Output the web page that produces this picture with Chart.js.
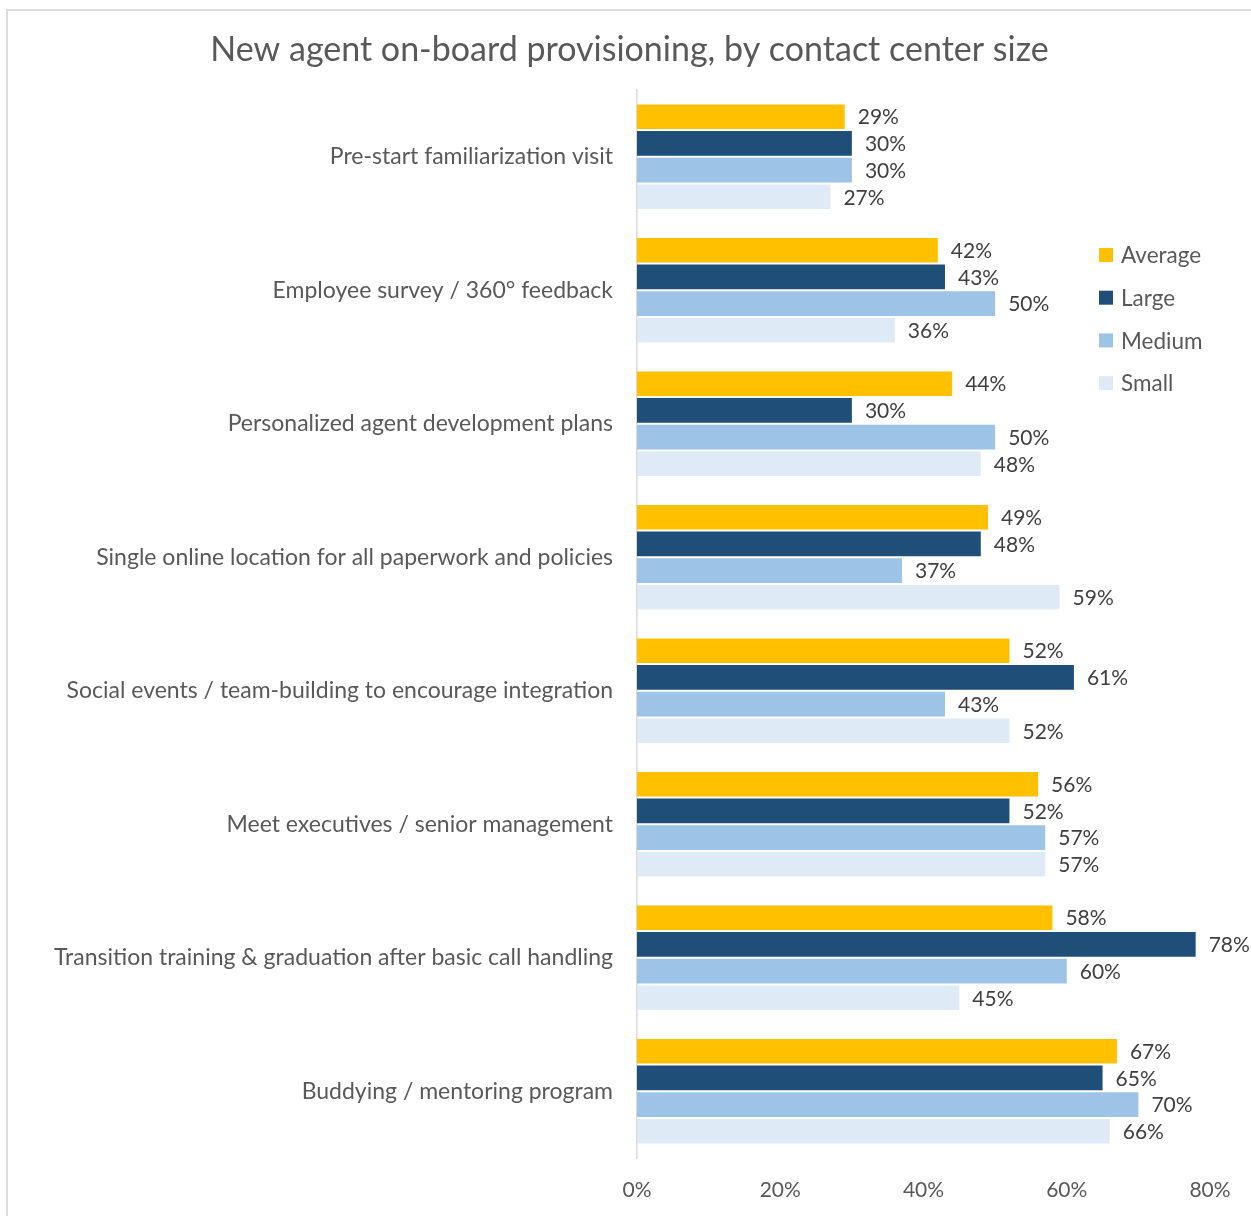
<!DOCTYPE html>
<html>
<head>
<meta charset="utf-8">
<title>New agent on-board provisioning</title>
<script src="https://cdn.jsdelivr.net/npm/chart.js@4.4.1/dist/chart.umd.min.js"></script>
<style>
  html, body { margin: 0; padding: 0; background: #fff; }
  #wrap { position: relative; width: 1251px; height: 1216px; overflow: hidden; }
  #frame {
    position: absolute; left: 6px; top: 9px; right: -4px; bottom: -4px;
    border-left: 2px solid #dcdcdc; border-top: 2px solid #dcdcdc;
  }
  canvas { position: absolute; left: 0; top: 0; }
</style>
</head>
<body>
<div id="wrap">
  <div id="frame"></div>
  <canvas id="chart" width="1251" height="1216"></canvas>
</div>
<script>
// data
const categories = [
  "Pre-start familiarization visit",
  "Employee survey / 360° feedback",
  "Personalized agent development plans",
  "Single online location for all paperwork and policies",
  "Social events / team-building to encourage integration",
  "Meet executives / senior management",
  "Transition training & graduation after basic call handling",
  "Buddying / mentoring program"
];
const average = [29, 42, 44, 49, 52, 56, 58, 67];
const large   = [30, 43, 30, 48, 61, 52, 78, 65];
const medium  = [30, 50, 50, 37, 43, 57, 60, 70];
const small   = [27, 36, 48, 59, 52, 57, 45, 66];
const xTicks  = [0, 20, 40, 60, 80];

const seriesNames  = ["Average", "Large", "Medium", "Small"];
const seriesColors = ["#FFC000", "#1F4E79", "#9DC3E6", "#DEEBF7"];
const seriesData   = [average, large, medium, small];

const chartTitle = "New agent on-board provisioning, by contact center size";
const FONT = "Lato, 'Open Sans', sans-serif";

// value labels at the end of each bar
const barLabels = {
  id: "barLabels",
  afterDatasetsDraw(chart) {
    const ctx = chart.ctx;
    ctx.save();
    ctx.font = "21px " + FONT;
    ctx.fillStyle = "#404040";
    ctx.textAlign = "left";
    ctx.textBaseline = "middle";
    chart.data.datasets.forEach((ds, i) => {
      chart.getDatasetMeta(i).data.forEach((bar, j) => {
        ctx.fillText(ds.data[j] + "%", bar.x + 13, bar.y + 1);
      });
    });
    ctx.restore();
  }
};

// title (centred on the framed box, not the canvas) and the legend inside the plot
const decorations = {
  id: "decorations",
  afterDraw(chart) {
    const ctx = chart.ctx;
    ctx.save();
    ctx.textBaseline = "middle";

    ctx.font = "34px " + FONT;
    ctx.fillStyle = "#595959";
    ctx.textAlign = "center";
    ctx.fillText(chartTitle, 629.5, 50);

    ctx.font = "22.5px " + FONT;
    ctx.textAlign = "left";
    seriesNames.forEach((name, i) => {
      const y = 255 + i * 42.7;
      ctx.fillStyle = seriesColors[i];
      ctx.fillRect(1099, y - 7, 14, 14);
      ctx.fillStyle = "#595959";
      ctx.fillText(name, 1121, y + 1);
    });
    ctx.restore();
  }
};

new Chart(document.getElementById("chart"), {
  type: "bar",
  data: {
    labels: categories,
    datasets: seriesNames.map((name, i) => ({
      label: name,
      data: seriesData[i],
      backgroundColor: seriesColors[i],
      categoryPercentage: 0.8,
      barPercentage: 0.92
    }))
  },
  options: {
    indexAxis: "y",
    responsive: false,
    animation: false,
    layout: { padding: { left: 8, right: 41, top: 90, bottom: 0 } },
    plugins: {
      legend: { display: false },
      tooltip: { enabled: false },
      title: { display: false }
    },
    scales: {
      x: {
        min: 0,
        max: 80,
        grid: { display: false, drawTicks: false },
        border: { display: false },
        afterBuildTicks(scale) {
          scale.ticks = xTicks.map(v => ({ value: v }));
        },
        ticks: {
          color: "#595959",
          padding: 20,
          font: { family: FONT, size: 21 },
          callback: v => v + "%"
        },
        afterFit(scale) { scale.height = 58; }
      },
      y: {
        grid: { display: false, drawTicks: false },
        border: { display: true, color: "#d9d9d9", width: 1.5 },
        ticks: {
          color: "#595959",
          padding: 24,
          font: { family: FONT, size: 23 }
        },
        afterFit(scale) { scale.width = 629; }
      }
    }
  },
  plugins: [barLabels, decorations]
});
</script>
</body>
</html>
